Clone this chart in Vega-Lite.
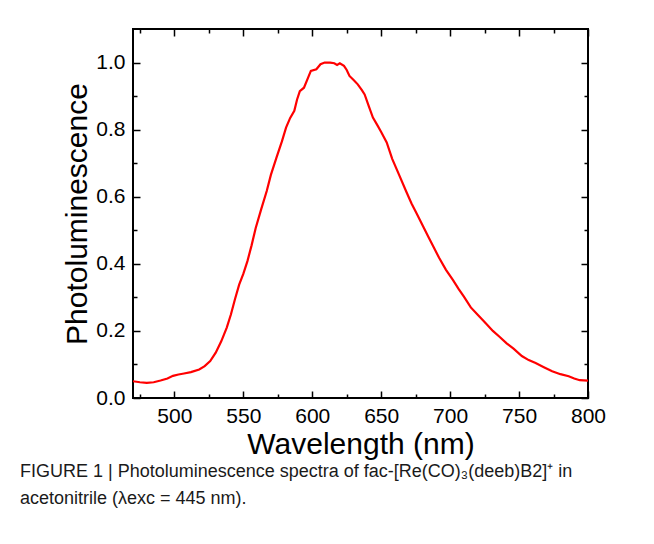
{
  "$schema": "https://vega.github.io/schema/vega-lite/v6.json",
  "width": 455,
  "height": 369,
  "padding": {"left": 20, "top": 28, "right": 5, "bottom": 5},
  "background": "white",
  "config": {
    "view": {"stroke": "black", "strokeWidth": 2},
    "font": "Liberation Sans",
    "axis": {"grid": false, "domain": false, "tickColor": "black", "tickWidth": 1.5, "labelColor": "black", "titleColor": "black", "labelFont": "Liberation Sans", "titleFont": "Liberation Sans", "titleFontWeight": "normal"}
  },
  "title": {
    "text": ["FIGURE 1 | Photoluminescence spectra of fac-[Re(CO)₃(deeb)B2]⁺ in", "acetonitrile (λexc = 445 nm)."],
    "orient": "bottom",
    "anchor": "start",
    "frame": "group",
    "dx": -113,
    "offset": 4,
    "font": "Liberation Sans",
    "fontSize": 18,
    "fontWeight": "normal",
    "color": "#1a1a1a",
    "lineHeight": 27
  },
  "data": {
    "values": [
      {"wl": 470, "pl": 0.050}, {"wl": 475, "pl": 0.047}, {"wl": 480, "pl": 0.045}, {"wl": 485, "pl": 0.047},
      {"wl": 490, "pl": 0.052}, {"wl": 495, "pl": 0.058}, {"wl": 499, "pl": 0.066}, {"wl": 503, "pl": 0.070},
      {"wl": 507, "pl": 0.073}, {"wl": 512, "pl": 0.077}, {"wl": 518, "pl": 0.085}, {"wl": 522, "pl": 0.095},
      {"wl": 526, "pl": 0.110}, {"wl": 530, "pl": 0.135}, {"wl": 534, "pl": 0.169}, {"wl": 538, "pl": 0.210},
      {"wl": 541, "pl": 0.249}, {"wl": 544, "pl": 0.295}, {"wl": 547, "pl": 0.338}, {"wl": 550, "pl": 0.370},
      {"wl": 553, "pl": 0.408}, {"wl": 556, "pl": 0.455}, {"wl": 559, "pl": 0.507}, {"wl": 563, "pl": 0.563},
      {"wl": 567, "pl": 0.617}, {"wl": 570, "pl": 0.665}, {"wl": 574, "pl": 0.716}, {"wl": 578, "pl": 0.765},
      {"wl": 581, "pl": 0.806}, {"wl": 584, "pl": 0.835}, {"wl": 587, "pl": 0.856}, {"wl": 589, "pl": 0.890},
      {"wl": 591, "pl": 0.915}, {"wl": 594, "pl": 0.925}, {"wl": 597, "pl": 0.955}, {"wl": 599, "pl": 0.975},
      {"wl": 603, "pl": 0.980}, {"wl": 606, "pl": 0.995}, {"wl": 609, "pl": 1.000}, {"wl": 613, "pl": 1.000},
      {"wl": 616, "pl": 0.998}, {"wl": 618, "pl": 0.993}, {"wl": 620, "pl": 0.998}, {"wl": 623, "pl": 0.990},
      {"wl": 625, "pl": 0.978}, {"wl": 627, "pl": 0.960}, {"wl": 630, "pl": 0.948}, {"wl": 633, "pl": 0.935},
      {"wl": 636, "pl": 0.918}, {"wl": 638, "pl": 0.905}, {"wl": 641, "pl": 0.870}, {"wl": 644, "pl": 0.836},
      {"wl": 647, "pl": 0.815}, {"wl": 650, "pl": 0.793}, {"wl": 654, "pl": 0.762}, {"wl": 658, "pl": 0.713},
      {"wl": 663, "pl": 0.665}, {"wl": 668, "pl": 0.617}, {"wl": 672, "pl": 0.580}, {"wl": 676, "pl": 0.548},
      {"wl": 680, "pl": 0.515}, {"wl": 684, "pl": 0.482}, {"wl": 688, "pl": 0.450}, {"wl": 692, "pl": 0.418},
      {"wl": 697, "pl": 0.382}, {"wl": 702, "pl": 0.352}, {"wl": 706, "pl": 0.326}, {"wl": 710, "pl": 0.302},
      {"wl": 715, "pl": 0.270}, {"wl": 720, "pl": 0.248}, {"wl": 726, "pl": 0.222}, {"wl": 731, "pl": 0.200},
      {"wl": 736, "pl": 0.182}, {"wl": 741, "pl": 0.163}, {"wl": 746, "pl": 0.147}, {"wl": 752, "pl": 0.125},
      {"wl": 757, "pl": 0.113}, {"wl": 762, "pl": 0.104}, {"wl": 768, "pl": 0.092}, {"wl": 774, "pl": 0.080},
      {"wl": 780, "pl": 0.071}, {"wl": 786, "pl": 0.065}, {"wl": 790, "pl": 0.058}, {"wl": 794, "pl": 0.053},
      {"wl": 800, "pl": 0.052}
    ]
  },
  "layer": [
    {
      "mark": {"type": "line", "color": "#ff0000", "strokeWidth": 2.2, "clip": true},
      "encoding": {
        "x": {
          "field": "wl", "type": "quantitative",
          "scale": {"domain": [470, 800], "nice": false, "zero": false},
          "axis": {
            "orient": "bottom",
            "title": "Wavelength (nm)",
            "values": [475, 500, 525, 550, 575, 600, 625, 650, 675, 700, 725, 750, 775, 800],
            "labelExpr": "datum.value % 50 === 0 ? datum.label : ''",
            "tickSize": {"condition": {"test": "datum.value % 50 === 0", "value": -7}, "value": -4},
            "labelPadding": 14,
            "labelFontSize": 21,
            "labelFlush": false,
            "labelOverlap": false,
            "titleFontSize": 30,
            "titlePadding": 0
          }
        },
        "y": {
          "field": "pl", "type": "quantitative",
          "scale": {"domain": [0, 1.1], "nice": false, "zero": false},
          "axis": {
            "orient": "left",
            "title": "Photoluminescence",
            "values": [0, 0.1, 0.2, 0.3, 0.4, 0.5, 0.6, 0.7, 0.8, 0.9, 1.0],
            "labelExpr": "round(datum.value * 10) % 2 === 0 ? format(datum.value, '.1f') : ''",
            "tickSize": {"condition": {"test": "round(datum.value * 10) % 2 === 0", "value": -7}, "value": -4},
            "labelPadding": 15,
            "labelFontSize": 21,
            "labelFlush": false,
            "labelOverlap": false,
            "titleFontSize": 30,
            "titlePadding": 3
          }
        }
      }
    },
    {
      "mark": {"type": "line", "opacity": 0},
      "encoding": {
        "x": {
          "field": "wl", "type": "quantitative",
          "axis": {
            "orient": "top",
            "title": null,
            "labels": false,
            "values": [475, 500, 525, 550, 575, 600, 625, 650, 675, 700, 725, 750, 775, 800],
            "tickSize": {"condition": {"test": "datum.value % 50 === 0", "value": -7}, "value": -4}
          }
        },
        "y": {
          "field": "pl", "type": "quantitative",
          "axis": {
            "orient": "right",
            "title": null,
            "labels": false,
            "values": [0, 0.1, 0.2, 0.3, 0.4, 0.5, 0.6, 0.7, 0.8, 0.9, 1.0],
            "tickSize": {"condition": {"test": "round(datum.value * 10) % 2 === 0", "value": -7}, "value": -4}
          }
        }
      }
    }
  ],
  "resolve": {"axis": {"x": "independent", "y": "independent"}}
}
